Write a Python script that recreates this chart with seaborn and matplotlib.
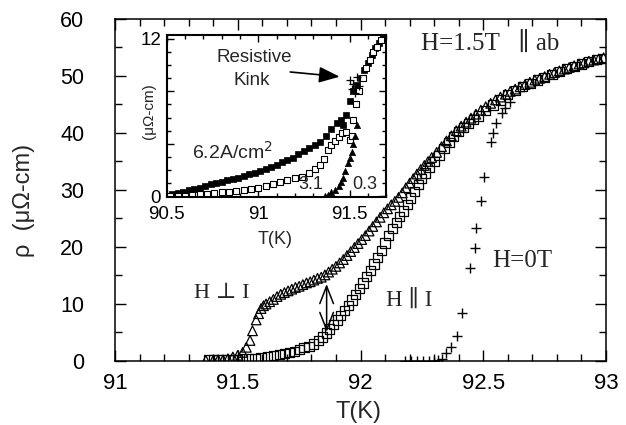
import matplotlib
matplotlib.use("Agg")
import matplotlib.pyplot as plt
import numpy as np
import seaborn as sns
from matplotlib.ticker import MultipleLocator

# ---- main panel data: rho (micro-ohm cm) vs T (K) ----
perp_T = [91.37, 91.40, 91.42, 91.44, 91.46, 91.48, 91.50, 91.52, 91.535, 91.55,
          91.56, 91.575, 91.585, 91.595, 91.605, 91.615, 91.63, 91.645, 91.66, 91.675,
          91.69, 91.705, 91.72, 91.735, 91.75, 91.765, 91.78, 91.795, 91.81, 91.825,
          91.84, 91.855, 91.87, 91.885, 91.90, 91.915, 91.93, 91.945, 91.96, 91.975,
          91.99, 92.005, 92.02, 92.035, 92.05, 92.065, 92.08, 92.095, 92.11, 92.125,
          92.14, 92.155, 92.17, 92.185, 92.20, 92.215, 92.23, 92.245, 92.26, 92.275,
          92.29, 92.31, 92.33, 92.35, 92.37, 92.39, 92.41, 92.43, 92.45, 92.47,
          92.49, 92.51, 92.53, 92.55, 92.57, 92.59, 92.61, 92.63, 92.65, 92.67,
          92.69, 92.71, 92.73, 92.75, 92.77, 92.79, 92.81, 92.83, 92.85, 92.87,
          92.89, 92.91, 92.93, 92.95, 92.97, 92.99]
perp_rho = [0.1, 0.1, 0.2, 0.2, 0.4, 0.7, 1.0, 1.5, 2.4, 3.6,
            5.3, 7.2, 8.3, 9.2, 9.7, 10.0, 10.4, 10.8, 11.3, 11.7,
            12.0, 12.3, 12.6, 12.9, 13.1, 13.4, 13.7, 13.9, 14.2, 14.5,
            14.7, 15.1, 15.6, 16.1, 16.6, 17.2, 17.8, 18.5, 19.2, 19.9,
            20.6, 21.3, 22.0, 22.8, 23.6, 24.4, 25.2, 26.0, 26.7, 27.4,
            28.0, 28.7, 29.5, 30.4, 31.2, 32.0, 32.8, 33.6, 34.3, 35.0,
            35.7, 36.6, 37.6, 38.6, 39.5, 40.4, 41.2, 41.9, 42.6, 43.3,
            44.0, 44.6, 45.2, 45.8, 46.3, 46.8, 47.3, 47.7, 48.1, 48.5,
            48.9, 49.3, 49.6, 49.9, 50.3, 50.6, 50.9, 51.2, 51.5, 51.8,
            52.1, 52.3, 52.6, 52.8, 53.0, 53.2]

para_T = [91.38, 91.40, 91.42, 91.44, 91.46, 91.48, 91.50, 91.52, 91.545, 91.57,
          91.595, 91.62, 91.645, 91.67, 91.69, 91.71, 91.73, 91.75, 91.77, 91.79,
          91.81, 91.83, 91.845, 91.86, 91.875, 91.89, 91.905, 91.92, 91.935, 91.95,
          91.965, 91.98, 91.995, 92.01, 92.025, 92.04, 92.055, 92.07, 92.085, 92.10,
          92.115, 92.13, 92.145, 92.16, 92.175, 92.19, 92.205, 92.22, 92.235, 92.25,
          92.265, 92.28, 92.30, 92.32, 92.34, 92.36, 92.38, 92.40, 92.42, 92.44,
          92.46, 92.48, 92.51, 92.54, 92.57, 92.60, 92.63, 92.66, 92.69, 92.72,
          92.75, 92.78, 92.81, 92.84, 92.87, 92.90, 92.93, 92.96, 92.99]
para_rho = [0.2, 0.2, 0.2, 0.2, 0.3, 0.3, 0.3, 0.4, 0.4, 0.5,
            0.6, 0.8, 0.9, 1.1, 1.3, 1.5, 1.7, 2.0, 2.3, 2.6,
            3.0, 3.6, 4.2, 4.9, 5.6, 6.4, 7.2, 8.0, 8.9, 9.8,
            10.7, 11.7, 12.7, 13.7, 14.8, 15.9, 17.0, 18.2, 19.4, 20.7,
            22.0, 23.2, 24.3, 25.3, 26.3, 27.4, 28.6, 29.8, 30.9, 32.0,
            33.0, 33.9, 35.0, 36.1, 37.3, 38.4, 39.4, 40.2, 41.0, 41.7,
            42.4, 43.0, 44.0, 44.9, 45.8, 46.7, 47.4, 48.1, 48.7, 49.3,
            49.8, 50.3, 50.8, 51.3, 51.7, 52.1, 52.5, 52.9, 53.1]

zero_T = [92.18, 92.205, 92.23, 92.255, 92.28, 92.30, 92.315, 92.33, 92.35, 92.37,
          92.395, 92.415, 92.445, 92.465, 92.47, 92.49, 92.505, 92.53, 92.54, 92.55,
          92.575, 92.59, 92.61]
zero_rho = [0.0, 0.0, 0.0, 0.0, 0.0, 0.0, 0.1, 0.4, 1.4, 2.5,
            4.3, 8.4, 16.3, 19.8, 23.3, 28.0, 32.3, 38.5, 40.0, 41.7,
            43.5, 44.3, 45.5]

xticks_main = [91, 91.5, 92, 92.5, 93]
xticklabels_main = ["91", "91.5", "92", "92.5", "93"]
yticks_main = [0, 10, 20, 30, 40, 50, 60]

# ---- inset data: three current densities (A/cm^2) ----
j62_T = [90.50, 90.53, 90.56, 90.59, 90.62, 90.65, 90.68, 90.71, 90.74, 90.77,
         90.80, 90.83, 90.86, 90.89, 90.92, 90.95, 90.98, 91.01, 91.04, 91.07,
         91.10, 91.13, 91.16, 91.19, 91.22, 91.25, 91.28, 91.31, 91.34, 91.37,
         91.40, 91.43, 91.45, 91.465, 91.48, 91.50, 91.52, 91.54, 91.56, 91.58,
         91.60, 91.62, 91.64, 91.66, 91.68]
j62_rho = [0.0, 0.15, 0.25, 0.35, 0.45, 0.55, 0.65, 0.8, 0.9, 1.0,
           1.1, 1.2, 1.3, 1.4, 1.55, 1.7, 1.8, 1.95, 2.1, 2.25,
           2.4, 2.6, 2.75, 2.95, 3.2, 3.45, 3.7, 3.9, 4.1, 4.6,
           5.1, 5.6, 5.8, 5.4, 6.2, 7.3, 8.0, 8.5, 9.0, 9.6,
           10.2, 10.8, 11.3, 11.7, 12.1]

j31_T = [90.52, 90.56, 90.60, 90.64, 90.68, 90.72, 90.76, 90.80, 90.84, 90.88,
         90.92, 90.96, 91.00, 91.04, 91.08, 91.12, 91.16, 91.20, 91.24, 91.28,
         91.31, 91.34, 91.36, 91.38, 91.40, 91.42, 91.44, 91.46, 91.48, 91.50,
         91.51, 91.52, 91.535, 91.55, 91.57, 91.59, 91.61, 91.63, 91.65, 91.67]
j31_rho = [0.0, 0.0, 0.05, 0.1, 0.15, 0.2, 0.25, 0.3, 0.35, 0.4,
           0.5, 0.55, 0.65, 0.8, 0.95, 1.05, 1.2, 1.35, 1.5, 1.75,
           2.05, 2.4, 2.8, 3.5, 3.9, 4.2, 4.5, 4.8, 4.9, 4.3,
           4.6, 5.8, 7.0, 8.0, 9.0, 9.8, 10.4, 11.0, 11.4, 11.9]

j03_T = [91.365, 91.38, 91.40, 91.42, 91.44, 91.455, 91.465, 91.475, 91.49, 91.50,
         91.51, 91.52, 91.53, 91.54]
j03_rho = [0.0, 0.1, 0.3, 0.5, 0.8, 1.1, 1.4, 1.9, 2.5, 2.9,
           3.4, 4.0, 4.6, 5.4]

kink_T = [91.50, 91.51, 91.52, 91.53, 91.54, 91.55]
kink_rho = [8.9, 8.2, 8.6, 7.9, 9.1, 8.4]

xticks_inset = [90.5, 91, 91.5]
xticklabels_inset = ["90.5", "91", "91.5"]
yticks_inset = [0, 4, 8, 12]
yticklabels_inset = ["0", "", "", "12"]

sns.set_style("ticks")
sans = ["Liberation Sans", "DejaVu Sans"]
serif = ["Liberation Serif", "DejaVu Serif"]
plt.rcParams["font.family"] = sans
plt.rcParams["xtick.direction"] = "in"
plt.rcParams["ytick.direction"] = "in"

fig = plt.figure(figsize=(6.26, 4.25), dpi=100)
ax = fig.add_axes([0.1837, 0.1506, 0.7844, 0.8047])

edge = dict(facecolors="none", edgecolors="black", linewidths=0.9)
sns.scatterplot(x=perp_T, y=perp_rho, marker="^", s=48, ax=ax, **edge)
sns.scatterplot(x=para_T, y=para_rho, marker="s", s=44, ax=ax, **edge)
sns.scatterplot(x=zero_T, y=zero_rho, marker="+", s=60, color="black",
                linewidths=1.0, ax=ax)

ax.set_xlim(91, 93)
ax.set_ylim(0, 60)
ax.set_xticks(xticks_main)
ax.set_xticklabels(xticklabels_main)
ax.set_yticks(yticks_main)
ax.xaxis.set_minor_locator(MultipleLocator(0.1))
ax.yaxis.set_minor_locator(MultipleLocator(5))
ax.tick_params(which="both", top=True, right=True, width=1.0, colors="black")
ax.tick_params(which="major", length=8)
ax.tick_params(which="minor", length=5)
ax.tick_params(axis="x", labelsize=16, pad=9)
ax.tick_params(axis="y", labelsize=15.5, pad=22)
for s in ax.spines.values():
    s.set_linewidth(1.1)
    s.set_color("black")

ax.set_xlabel("T(K)", fontsize=17)
ax.xaxis.set_label_coords(0.495, -0.118)
ax.set_ylabel("ρ  (μΩ-cm)", fontsize=17)
ax.yaxis.set_label_coords(-0.163, 0.47)

ax.annotate("", xy=(91.862, 14.0), xytext=(91.862, 4.6),
            arrowprops=dict(arrowstyle="<->,head_length=0.9,head_width=0.35",
                            lw=1.1, color="black", mutation_scale=14))

ax.text(92.527, 55.8, "H=1.5T   ∥ ab", family=serif, fontsize=18,
        ha="center", va="center")
ax.text(91.436, 11.8, "H ⊥ I", family=serif, fontsize=16, ha="center", va="center")
ax.text(92.20, 10.7, "H ∥ I", family=serif, fontsize=16.5, ha="center", va="center")
ax.text(92.66, 17.5, "H=0T", family=serif, fontsize=18, ha="center", va="center")

# ---- inset ----
ins = fig.add_axes([0.2663, 0.5353, 0.3508, 0.3823])
sns.scatterplot(x=j62_T, y=j62_rho, marker="s", s=14, color="black",
                edgecolor="black", linewidth=0.5, ax=ins)
sns.scatterplot(x=j31_T, y=j31_rho, marker="s", s=18, facecolors="white",
                edgecolors="black", linewidths=0.8, ax=ins)
sns.scatterplot(x=j03_T, y=j03_rho, marker="^", s=20, color="black",
                edgecolor="black", linewidth=0.5, ax=ins)
sns.scatterplot(x=kink_T, y=kink_rho, marker="+", s=30, color="black",
                linewidths=0.9, ax=ins)

ins.set_xlim(90.5, 91.7)
ins.set_ylim(-0.1, 12.3)
ins.set_xticks(xticks_inset)
ins.set_xticklabels(xticklabels_inset)
ins.set_yticks(yticks_inset)
ins.set_yticklabels(yticklabels_inset)
ins.xaxis.set_minor_locator(MultipleLocator(0.1))
ins.yaxis.set_minor_locator(MultipleLocator(1))
ins.tick_params(which="both", top=True, right=True, width=1.0, colors="black")
ins.tick_params(which="major", length=5)
ins.tick_params(which="minor", length=3)
ins.tick_params(axis="x", labelsize=13.5, pad=6)
ins.tick_params(axis="y", labelsize=13.5, pad=4)
for s in ins.spines.values():
    s.set_linewidth(1.5)
    s.set_color("black")

ins.set_xlabel("T(K)", fontsize=13)
ins.xaxis.set_label_coords(0.493, -0.205)
ins.set_ylabel("(μΩ-cm)", fontsize=11)
ins.yaxis.set_label_coords(-0.05, 0.53)

ins.text(90.98, 10.6, "Resistive", fontsize=13.5, ha="center", va="center")
ins.text(90.965, 8.8, "Kink", fontsize=13.5, ha="center", va="center")
ins.annotate("", xy=(91.46, 9.1), xytext=(91.16, 9.5),
             arrowprops=dict(arrowstyle="-|>,head_length=0.9,head_width=0.35",
                             lw=1.2, color="black", mutation_scale=14))
ins.text(90.86, 3.4, "6.2A/cm$^2$", fontsize=14, ha="center", va="center")
ins.text(91.29, 0.9, "3.1", fontsize=13, ha="center", va="center")
ins.text(91.58, 0.9, "0.3", fontsize=13, ha="center", va="center")

fig.savefig("out.png", dpi=100)
